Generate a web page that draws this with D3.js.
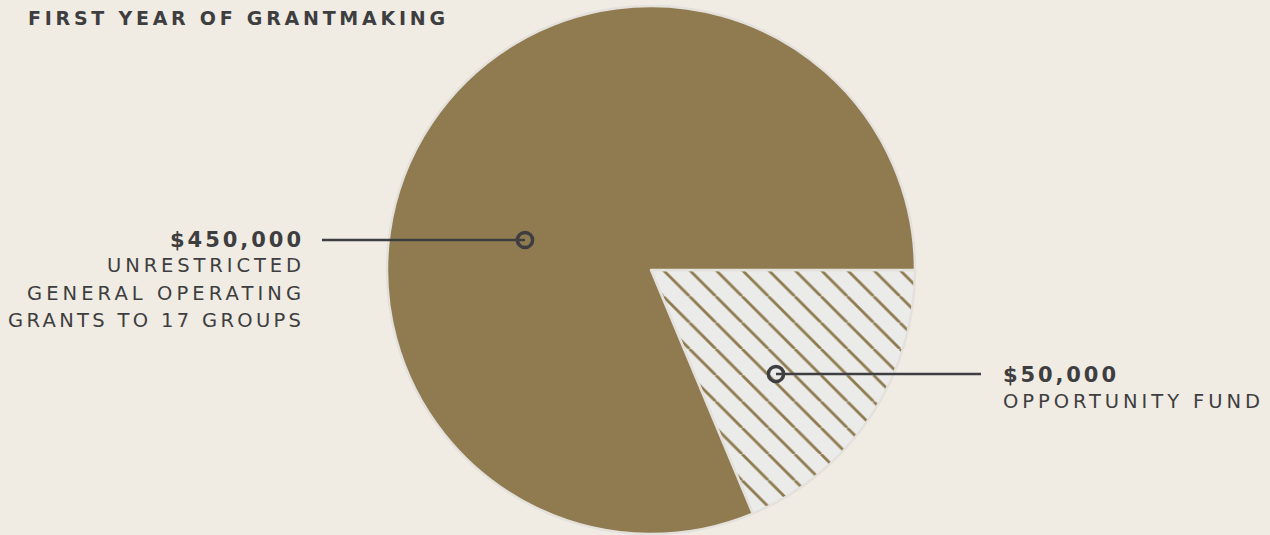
<!DOCTYPE html>
<html>
<head>
<meta charset="utf-8">
<script src="https://cdn.jsdelivr.net/npm/d3@7"></script>
<style>
  html, body { margin: 0; padding: 0; background: #f0ece4; }
  svg { display: block; }
</style>
</head>
<body>
<div id="chart"></div>
<script>
// ---------- data ----------
const title = "FIRST YEAR OF GRANTMAKING";
const categories = ["Opportunity Fund", "Unrestricted grants"];
const amounts = ["$50,000", "$450,000"];
// slice shares as drawn in the picture (percent of the circle)
const sliceShares = [18.7, 81.3];
const labelLines = [
  ["OPPORTUNITY FUND"],
  ["UNRESTRICTED", "GENERAL OPERATING", "GRANTS TO 17 GROUPS"]
];

// ---------- layout ----------
const width = 1270, height = 535;
const cx = 651, cy = 270, radius = 264;
const bg = "#f0ece4";
const brown = "#8f7b4f";
const hatchBg = "#ebebea";
const rimColour = "#e4e1dc";
const ink = "#3e3e40";
const fontFamily = "'DejaVu Sans', Inter, sans-serif";

const svg = d3.select("#chart").append("svg")
  .attr("width", width)
  .attr("height", height);

svg.append("rect").attr("width", width).attr("height", height).attr("fill", bg);

// hatch pattern for the small slice
const hw = 26.3;
const defs = svg.append("defs");
const pat = defs.append("pattern")
  .attr("id", "hatch")
  .attr("patternUnits", "userSpaceOnUse")
  .attr("x", 12.2).attr("y", 0)
  .attr("width", hw).attr("height", hw);
pat.append("rect").attr("width", hw).attr("height", hw).attr("fill", hatchBg);
pat.append("path")
  .attr("d", `M${-hw},0L0,${hw}M0,0L${hw},${hw}M${hw},0L${2 * hw},${hw}`)
  .attr("stroke", brown)
  .attr("stroke-width", 2.8)
  .attr("fill", "none");

// ---------- pie ----------
const pie = d3.pie()
  .sort(null)
  .value(d => d)
  .startAngle(Math.PI / 2)
  .endAngle(Math.PI / 2 + 2 * Math.PI);

const arc = d3.arc().innerRadius(0).outerRadius(radius);

const pieG = svg.append("g").attr("transform", `translate(${cx},${cy})`);

pieG.selectAll("path")
  .data(pie(sliceShares))
  .join("path")
    .attr("d", arc)
    .attr("fill", (d, i) => i === 0 ? "url(#hatch)" : brown)
    .attr("stroke", rimColour)
    .attr("stroke-width", 2.5)
    .attr("stroke-linejoin", "round");

// ---------- title ----------
svg.append("text")
  .attr("x", 28).attr("y", 25)
  .attr("font-family", fontFamily)
  .attr("font-weight", 700)
  .attr("font-size", 19)
  .attr("fill", ink)
  .attr("textLength", 417)
  .attr("lengthAdjust", "spacing")
  .text(title);

// ---------- callouts ----------
const callouts = [
  { dot: [776, 374], lineTo: 981, textX: 1003, anchor: "start", amountY: 382,
    lineYs: [408], amountW: 113, lineWs: [257] },
  { dot: [525, 240], lineTo: 322, textX: 301, anchor: "end", amountY: 247,
    lineYs: [272, 299.5, 326.7], amountW: 131, lineWs: [194, 274, 293] }
];

callouts.forEach((c, i) => {
  const g = svg.append("g");
  g.append("line")
    .attr("x1", c.dot[0]).attr("y1", c.dot[1])
    .attr("x2", c.lineTo).attr("y2", c.dot[1])
    .attr("stroke", ink).attr("stroke-width", 2.6);
  g.append("circle")
    .attr("cx", c.dot[0]).attr("cy", c.dot[1])
    .attr("r", 7.6)
    .attr("fill", "none")
    .attr("stroke", ink).attr("stroke-width", 3.5);

  g.append("text")
    .attr("x", c.textX).attr("y", c.amountY)
    .attr("text-anchor", c.anchor)
    .attr("font-family", fontFamily)
    .attr("font-weight", 700)
    .attr("font-size", 21)
    .attr("fill", ink)
    .attr("textLength", c.amountW)
    .attr("lengthAdjust", "spacing")
    .text(amounts[i]);

  labelLines[i].forEach((t, j) => {
    g.append("text")
      .attr("x", c.textX).attr("y", c.lineYs[j])
      .attr("text-anchor", c.anchor)
      .attr("font-family", fontFamily)
      .attr("font-weight", 400)
      .attr("font-size", 19.5)
      .attr("fill", ink)
      .attr("textLength", c.lineWs[j])
      .attr("lengthAdjust", "spacing")
      .text(t);
  });
});
</script>
</body>
</html>
